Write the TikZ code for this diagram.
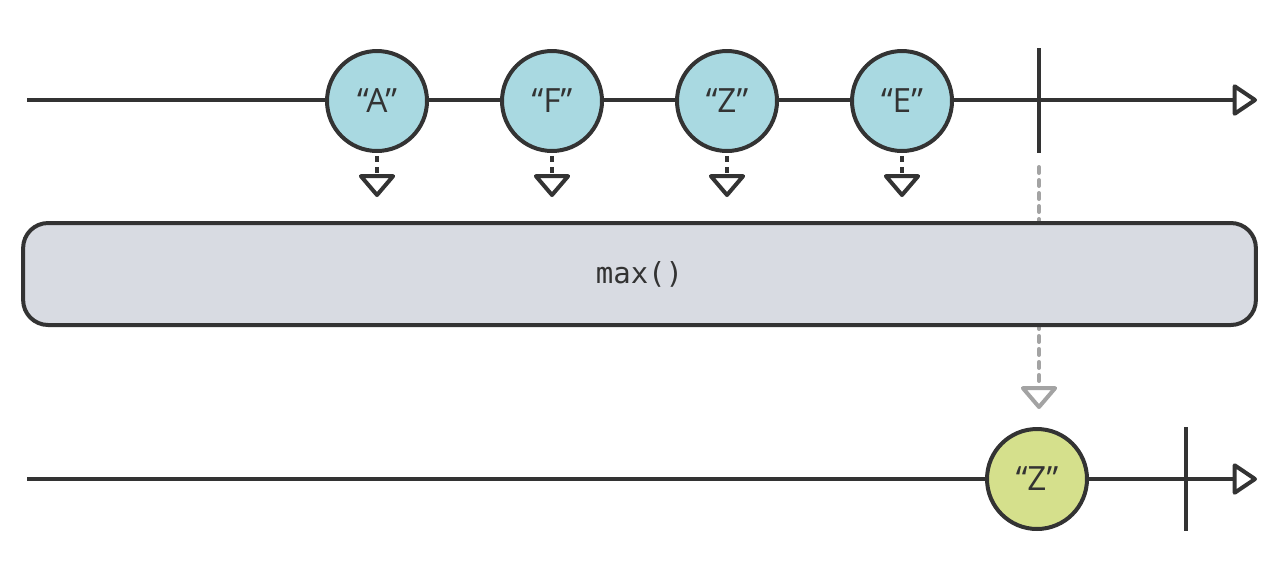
\documentclass[tikz,border=0pt]{standalone}
\usepackage{fontspec}
\setmainfont{Open Sans}
\setmonofont{DejaVu Sans Mono}
\usetikzlibrary{arrows.meta}
\definecolor{ink}{HTML}{333333}
\definecolor{bluefill}{HTML}{A9D9E1}
\definecolor{greenfill}{HTML}{D5E08C}
\definecolor{boxfill}{HTML}{D8DBE2}
\definecolor{greyline}{HTML}{A3A3A3}
\tikzset{
  tl/.style={line width=0.08cm, draw=ink},
  marble/.style={circle, line width=0.08cm, draw=ink, minimum size=2.0cm, inner sep=0pt, font=\fontsize{19}{22}\selectfont, text=ink},
  bigtip/.style={-{Triangle[open,length=0.52cm,width=0.68cm,round]}},
  smalltip/.style={-{Triangle[open,length=0.48cm,width=0.8cm,round]}},
  emitdash/.style={line width=0.08cm, draw=ink, dash pattern=on 0.12cm off 0.1cm},
  resultdash/.style={line width=0.08cm, draw=greyline, dash pattern=on 0.12cm off 0.14cm, line cap=round},
}
\begin{document}
\begin{tikzpicture}[x=0.02cm,y=-0.02cm]
\useasboundingbox (0,0) rectangle (1280,566);
% top timeline
\coordinate (s1) at (27,100);
\coordinate (e1) at (1257,100);
\draw[tl, bigtip, line join=round] (s1) -- (e1);
\coordinate (t1a) at (1039,48);
\coordinate (t1b) at (1039,153);
\draw[tl] (t1a) -- (t1b);
% result dashed line
\coordinate (r0) at (1039,167);
\coordinate (r1) at (1039,409);
\draw[resultdash, -{Triangle[open,length=0.48cm,width=0.8cm,round,greyline]}] (r0) -- (r1);
% marbles
\node[marble, fill=bluefill] (a) at (377,101) {“A”};
\node[marble, fill=bluefill] (f) at (552,101) {“F”};
\node[marble, fill=bluefill] (z) at (727,101) {“Z”};
\node[marble, fill=bluefill] (e) at (902,101) {“E”};
\foreach \n/\x in {a/377,f/552,z/727,e/902}{
  \coordinate (\n t) at (\x,197);
  \draw[emitdash, smalltip] ([yshift=-0.06cm]\n.south) -- (\n t);
}
% operator box
\node[draw=ink, line width=0.08cm, fill=boxfill, rounded corners=0.5cm, minimum width=24.66cm, minimum height=2.04cm, inner sep=0pt, font=\ttfamily\fontsize{16.5}{19}\selectfont, text=ink] (op) at (639.5,274) {max()};
% bottom timeline
\coordinate (s2) at (27,479);
\coordinate (e2) at (1257,479);
\draw[tl, bigtip, line join=round] (s2) -- (e2);
\coordinate (t2a) at (1186,427);
\coordinate (t2b) at (1186,531);
\draw[tl] (t2a) -- (t2b);
\node[marble, fill=greenfill] (out) at (1037,479) {“Z”};
\end{tikzpicture}
\end{document}
